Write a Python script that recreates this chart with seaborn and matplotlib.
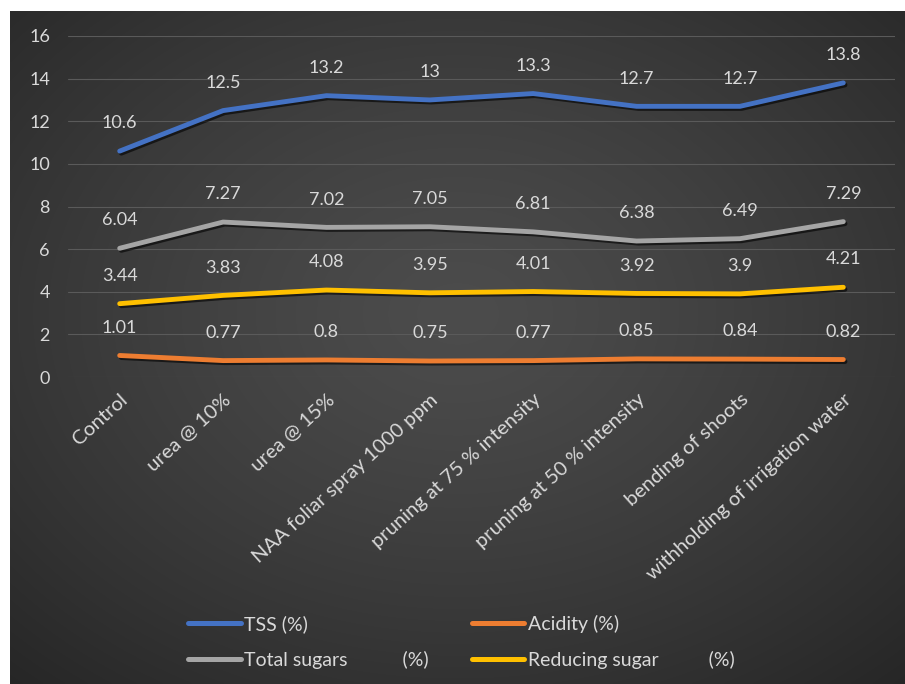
import numpy as np
import pandas as pd
import matplotlib
matplotlib.use("Agg")
import matplotlib.pyplot as plt
import matplotlib.patheffects as pe
from matplotlib.lines import Line2D
import seaborn as sns

categories = ["Control", "urea @ 10%", "urea @ 15%", "NAA foliar spray 1000 ppm",
              "pruning at 75 % intensity", "pruning at 50 % intensity",
              "bending of shoots", "withholding of irrigation water"]
tss = [10.6, 12.5, 13.2, 13, 13.3, 12.7, 12.7, 13.8]
acidity = [1.01, 0.77, 0.8, 0.75, 0.77, 0.85, 0.84, 0.82]
total_sugars = [6.04, 7.27, 7.02, 7.05, 6.81, 6.38, 6.49, 7.29]
reducing_sugar = [3.44, 3.83, 4.08, 3.95, 4.01, 3.92, 3.9, 4.21]
y_ticks = [0, 2, 4, 6, 8, 10, 12, 14, 16]

series_names = ["TSS (%)", "Acidity (%)", "Total sugars           (%)", "Reducing sugar          (%)"]
series_values = [tss, acidity, total_sugars, reducing_sugar]
colors = ["#4472C4", "#ED7D31", "#A5A5A5", "#FFC000"]

sns.set_theme(style="dark")
plt.rcParams['font.family'] = ['Lato', 'DejaVu Sans']

rows = []
for name, vals in zip(series_names, series_values):
    for i, v in enumerate(vals):
        rows.append({"pos": i, "value": v, "series": name})
df = pd.DataFrame(rows)

W, H = 905, 684
fig = plt.figure(figsize=(W / 100, H / 100), dpi=100, facecolor="white")

# gradient background panel
bg = fig.add_axes([10 / W, 0, (W - 10) / W, (H - 11) / H])
ny, nx = 300, 400
yy, xx = np.mgrid[0:1:ny * 1j, 0:1:nx * 1j]
r = np.sqrt(((xx - 0.5) / 0.75) ** 2 + ((yy - 0.45) / 0.75) ** 2)
r = np.clip(r, 0, 1)
cval = (76 - (76 - 38) * r ** 1.3) / 255.0
img = np.dstack([cval, cval, cval])
bg.imshow(img, extent=[0, 1, 0, 1], aspect="auto", origin="upper", interpolation="bilinear")
bg.set_axis_off()

ax = fig.add_axes([68 / W, 1 - 377 / H, 827 / W, 341 / H])
ax.set_facecolor("none")

sns.lineplot(data=df, x="pos", y="value", hue="series", hue_order=series_names,
             palette=colors, linewidth=3.5, ax=ax, legend=False, sort=False)
for ln in ax.lines:
    ln.set_solid_capstyle("round")
    ln.set_path_effects([pe.SimpleLineShadow(offset=(1.2, -1.5), shadow_color="black", alpha=0.6),
                         pe.Normal()])

label_color = "#d9d9d9"
for vals in series_values:
    for i, v in enumerate(vals):
        ax.annotate(f"{v:g}", (i, v), xytext=(0, 20), textcoords="offset points",
                    ha="center", va="center", color=label_color, fontsize=13)

ax.set_xlim(-0.5, len(categories) - 0.5)
ax.set_ylim(0, 16)
ax.set_yticks(y_ticks)
ax.set_xticks(range(len(categories)))
ax.set_xticklabels(categories, rotation=42, ha="right", va="top", rotation_mode="anchor")
ax.set_xlabel("")
ax.set_ylabel("")
ax.yaxis.grid(True, color="#5a5a5a", linewidth=0.8)
ax.xaxis.grid(False)
for s in ax.spines.values():
    s.set_visible(False)
ax.tick_params(axis="y", colors=label_color, labelsize=13, length=0, pad=13)
ax.tick_params(axis="x", colors=label_color, labelsize=14.5, length=0, pad=10)

handle_order = [0, 2, 1, 3]
handles = [Line2D([0], [0], color=colors[k], linewidth=3.6, solid_capstyle="round") for k in handle_order]
labels = [series_names[k] for k in handle_order]
leg = fig.legend(handles, labels, ncol=2, loc="center", bbox_to_anchor=(0.510, 1 - 642 / H),
                 frameon=False, fontsize=14, handlelength=2.7, handletextpad=0.2,
                 labelspacing=0.95, columnspacing=2.2)
for t in leg.get_texts():
    t.set_color(label_color)

fig.savefig("out.png", dpi=100, facecolor="white")
